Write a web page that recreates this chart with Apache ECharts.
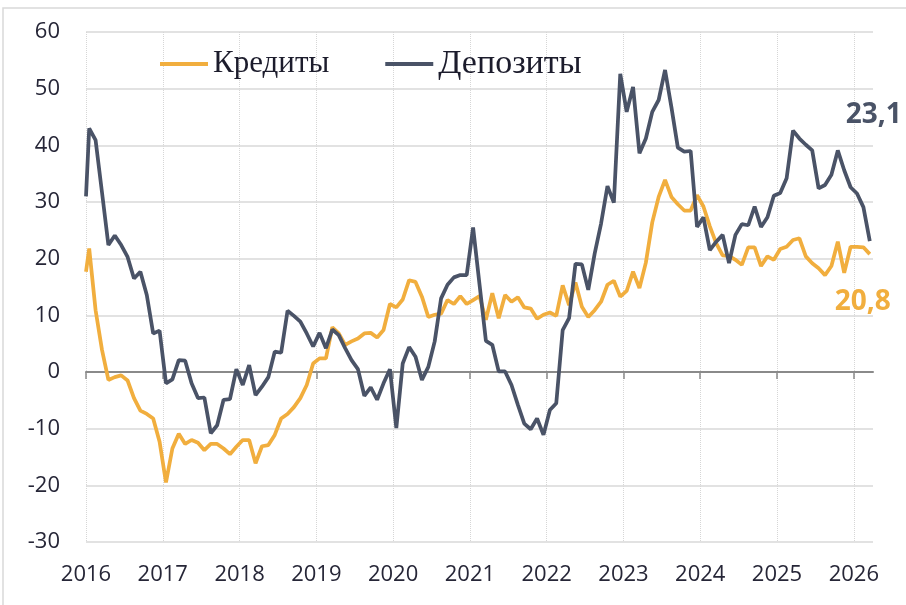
<!DOCTYPE html>
<html>
<head>
<meta charset="utf-8">
<script src="https://cdn.jsdelivr.net/npm/echarts@6/dist/echarts.min.js"></script>
<style>
html, body { margin: 0; padding: 0; background: #fff; }
#chart { width: 906px; height: 605px; }
</style>
</head>
<body>
<div id="chart"></div>
<script>
// monthly series Jan 2016 .. Mar 2026, each point sits mid-month;
// the line enters the plot at the 2016 edge already moving, so the edge value is kept apart
var startYear = 2016;
var yearTicks = [2016, 2017, 2018, 2019, 2020, 2021, 2022, 2023, 2024, 2025, 2026];
var seriesNames = ['Кредиты', 'Депозиты'];

var creditsEdge = 17.7;
var credits = [
    21.8, 10.9, 3.9, -1.4, -0.9, -0.6, -1.5, -4.6, -6.8, -7.4, -8.2, -12.3,
    -19.5, -13.5, -10.9, -12.7, -12.0, -12.5, -13.8, -12.7, -12.7, -13.5, -14.5, -13.2,
    -12.0, -12.0, -16.1, -13.1, -12.9, -11.1, -8.2, -7.4, -6.2, -4.6, -2.3, 1.5,
    2.4, 2.4, 7.9, 6.8, 4.8, 5.4, 5.9, 6.8, 6.9, 6.1, 7.4, 12.0,
    11.4, 12.8, 16.2, 15.9, 13.3, 9.7, 10.1, 10.3, 12.7, 12.0, 13.4, 12.0,
    12.7, 13.4, 9.2, 13.9, 9.5, 13.6, 12.4, 13.2, 11.4, 11.2, 9.4, 10.1,
    10.5, 9.9, 15.3, 11.8, 15.8, 11.5, 9.7, 10.9, 12.4, 15.4, 16.1, 13.3,
    14.3, 17.7, 14.8, 19.3, 26.4, 30.9, 33.9, 30.9, 29.6, 28.5, 28.5, 31.2,
    29.2, 25.7, 22.7, 20.6, 20.5, 19.8, 18.9, 22.0, 22.0, 18.7, 20.4, 19.8,
    21.7, 22.1, 23.3, 23.6, 20.4, 19.2, 18.3, 17.1, 18.7, 23.0, 17.5, 22.1,
    22.1, 22.0, 20.8
];

var depositsEdge = 31.0;
var deposits = [
    43.0, 40.9, 31.7, 22.4, 24.1, 22.4, 20.3, 16.5, 17.7, 13.6, 6.8, 7.3,
    -2.0, -1.3, 2.1, 2.0, -2.0, -4.6, -4.5, -10.8, -9.4, -4.9, -4.8, 0.5,
    -2.3, 1.2, -4.1, -2.6, -0.9, 3.6, 3.4, 10.8, 9.9, 8.9, 6.8, 4.5,
    6.9, 4.2, 7.5, 6.5, 4.2, 2.1, 0.5, -4.2, -2.7, -4.9, -2.0, 0.5,
    -9.9, 1.5, 4.4, 2.7, -1.4, 0.9, 5.4, 13.0, 15.4, 16.7, 17.1, 17.1,
    25.5, 15.5, 5.5, 4.8, 0.1, 0.1, -2.3, -5.8, -9.1, -10.1, -8.2, -11.1,
    -6.7, -5.5, 7.4, 9.5, 19.1, 19.0, 14.5, 20.9, 26.2, 32.8, 29.9, 52.6,
    45.9, 50.3, 38.6, 41.2, 45.9, 48.0, 53.3, 46.7, 39.6, 38.9, 39.0, 25.6,
    27.3, 21.5, 23.0, 24.2, 19.2, 24.2, 26.1, 25.9, 29.2, 25.6, 27.3, 31.1,
    31.6, 34.2, 42.6, 41.2, 40.1, 39.1, 32.4, 33.0, 34.8, 39.1, 35.6, 32.6,
    31.5, 29.1, 23.1
];

var orange = '#F1AE3E';
var slate = '#4A5367';

function toPoints(edge, values) {
    var pts = [[startYear, edge]];
    for (var i = 0; i < values.length; i++) {
        pts.push([startYear + (i + 0.5) / 12, values[i]]);
    }
    return pts;
}

function endLabel(color, offset) {
    return {
        show: true,
        distance: 0,
        offset: offset,
        formatter: function (p) { return String(p.value[1]).replace('.', ','); },
        color: color,
        fontFamily: 'Open Sans',
        fontWeight: 'bold',
        fontSize: 28
    };
}

var chart = echarts.init(document.getElementById('chart'), null, { renderer: 'canvas' });

var option = {
    animation: false,
    backgroundColor: '#fff',
    graphic: [{
        type: 'rect',
        shape: { x: 3, y: 8, width: 920, height: 620 },
        style: { fill: 'none', stroke: '#d9d9d9', lineWidth: 1.5 },
        silent: true
    }],
    grid: { left: 86, right: 33, top: 32, bottom: 63, containLabel: false },
    legend: {
        left: 160,
        top: 47,
        padding: 0,
        itemWidth: 48,
        itemHeight: 4,
        itemGap: 56,
        icon: 'rect',
        textStyle: { fontFamily: 'Liberation Serif', fontSize: 31, color: '#1c1c2c' },
        data: [
            { name: seriesNames[0] },
            { name: seriesNames[1], textStyle: { fontSize: 34 } }
        ]
    },
    xAxis: [{
        type: 'value',
        min: 2016,
        max: 2026.25,
        interval: 1,
        axisLine: { show: false, onZero: false },
        axisTick: { show: false },
        axisLabel: {
            margin: 22,
            fontFamily: 'Open Sans',
            fontSize: 22,
            color: '#262637',
            showMaxLabel: false,
            formatter: function (v) { return yearTicks.indexOf(v) >= 0 ? String(v) : ''; }
        },
        splitLine: { show: true, showMaxLine: false, lineStyle: { color: '#d6d6d6', type: 'dotted', width: 1 } }
    }, {
        type: 'value',
        min: 2016,
        max: 2026.25,
        interval: 1,
        position: 'bottom',
        axisLine: { show: true, onZero: true, lineStyle: { color: '#8a8a8a', width: 2 } },
        axisTick: { show: true, length: 7, customValues: yearTicks, lineStyle: { color: '#8a8a8a', width: 1.5 } },
        axisLabel: { show: false },
        splitLine: { show: false }
    }],
    yAxis: {
        type: 'value',
        min: -30,
        max: 60,
        interval: 10,
        axisLine: { show: false },
        axisTick: { show: false },
        axisLabel: { margin: 26, fontFamily: 'Open Sans', fontSize: 22, color: '#262637' },
        splitLine: { lineStyle: { color: '#d9d9d9', width: 1.5 } }
    },
    series: [{
        name: seriesNames[0],
        type: 'line',
        xAxisIndex: 0,
        data: toPoints(creditsEdge, credits),
        symbol: 'none',
        color: orange,
        lineStyle: { color: orange, width: 3.75 },
        endLabel: endLabel(orange, [-35, 48]),
        z: 3
    }, {
        name: seriesNames[1],
        type: 'line',
        xAxisIndex: 0,
        data: toPoints(depositsEdge, deposits),
        symbol: 'none',
        color: slate,
        lineStyle: { color: slate, width: 3.75 },
        endLabel: endLabel(slate, [-24, -126]),
        z: 4
    }]
};

chart.setOption(option);
</script>
</body>
</html>
